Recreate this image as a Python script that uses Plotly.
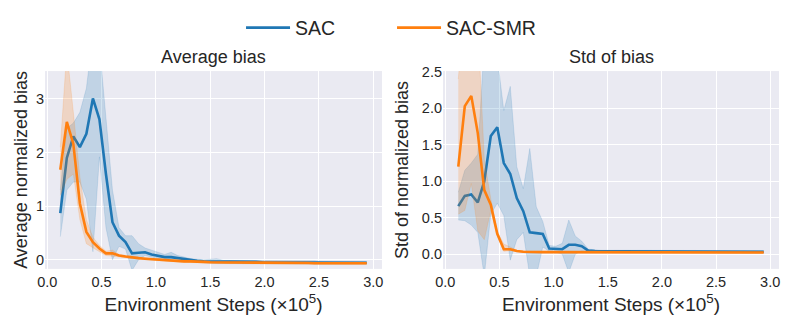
import plotly.graph_objects as go

# environment steps (x 1e5)
steps = [0.12, 0.18, 0.24, 0.30, 0.36, 0.42, 0.48, 0.54, 0.60, 0.66, 0.72, 0.78,
         0.84, 0.90, 0.96, 1.02, 1.08, 1.14, 1.20, 1.26, 1.32, 1.38, 1.44, 1.50,
         1.56, 1.62, 1.68, 1.74, 1.80, 1.86, 1.92, 1.98, 2.04, 2.10, 2.16, 2.22,
         2.28, 2.34, 2.40, 2.46, 2.52, 2.58, 2.64, 2.70, 2.76, 2.82, 2.88, 2.94]

# ---- average bias ----
sac_avg = [0.87, 1.90, 2.30, 2.10, 2.35, 3.01, 2.62, 1.60, 0.70, 0.45, 0.33, 0.12,
           0.13, 0.14, 0.10, 0.07, 0.05, 0.05, 0.03, 0.01, -0.01, -0.02, -0.03, -0.03,
           -0.03, -0.04, -0.04, -0.04, -0.04, -0.04, -0.04, -0.045, -0.045, -0.045, -0.05, -0.05,
           -0.05, -0.05, -0.05, -0.05, -0.055, -0.055, -0.055, -0.055, -0.055, -0.055, -0.055, -0.055]
sac_avg_lo = [0.43, 1.30, 1.45, 1.45, 1.13, 0.15, 1.92, 0.60, 0.00, 0.25, 0.20, -0.20,
              0.00, 0.08, 0.05, 0.02, 0.00, -0.02, -0.01, -0.03, -0.04, -0.05, -0.06, -0.06,
              -0.07, -0.07, -0.07, -0.07, -0.07, -0.07, -0.07, -0.07, -0.07, -0.07, -0.08, -0.08,
              -0.08, -0.08, -0.08, -0.08, -0.08, -0.08, -0.08, -0.08, -0.08, -0.08, -0.08, -0.08]
sac_avg_hi = [1.30, 2.45, 2.55, 2.75, 3.20, 4.20, 4.00, 2.60, 1.30, 0.60, 0.45, 0.45,
              0.30, 0.22, 0.18, 0.13, 0.10, 0.14, 0.08, 0.05, 0.02, 0.01, 0.00, 0.01,
              0.02, -0.01, -0.01, -0.01, -0.01, -0.01, -0.01, -0.02, -0.02, -0.02, -0.02, -0.02,
              -0.02, -0.02, -0.02, -0.02, -0.03, -0.03, -0.03, -0.03, -0.03, -0.03, -0.03, -0.03]

smr_avg = [1.68, 2.57, 2.16, 1.05, 0.52, 0.33, 0.21, 0.12, 0.12, 0.08, 0.06, 0.04,
           0.03, 0.02, 0.01, 0.00, -0.01, -0.02, -0.02, -0.03, -0.03, -0.04, -0.04, -0.045,
           -0.05, -0.05, -0.05, -0.05, -0.05, -0.055, -0.055, -0.055, -0.055, -0.06, -0.06, -0.06,
           -0.06, -0.06, -0.06, -0.065, -0.065, -0.065, -0.065, -0.065, -0.065, -0.065, -0.065, -0.065]
smr_avg_lo = [1.20, 1.50, 1.60, 0.75, 0.30, 0.22, 0.15, 0.08, 0.07, 0.06, 0.04, 0.02,
              0.01, 0.00, -0.01, -0.02, -0.03, -0.04, -0.04, -0.05, -0.05, -0.06, -0.06, -0.065,
              -0.07, -0.07, -0.07, -0.07, -0.07, -0.075, -0.075, -0.075, -0.075, -0.08, -0.08, -0.08,
              -0.08, -0.08, -0.08, -0.085, -0.085, -0.085, -0.085, -0.085, -0.085, -0.085, -0.085, -0.085]
smr_avg_hi = [2.10, 3.90, 2.75, 1.55, 0.75, 0.42, 0.27, 0.16, 0.18, 0.10, 0.08, 0.06,
              0.05, 0.04, 0.03, 0.02, 0.01, 0.00, 0.00, -0.01, -0.01, -0.02, -0.02, -0.025,
              -0.03, -0.03, -0.03, -0.03, -0.03, -0.035, -0.035, -0.035, -0.035, -0.04, -0.04, -0.04,
              -0.04, -0.04, -0.04, -0.045, -0.045, -0.045, -0.045, -0.045, -0.045, -0.045, -0.045, -0.045]

# ---- std of bias ----
sac_std = [0.66, 0.80, 0.82, 0.71, 1.00, 1.62, 1.74, 1.25, 1.10, 0.77, 0.59, 0.30,
           0.29, 0.28, 0.08, 0.07, 0.07, 0.13, 0.13, 0.11, 0.05, 0.045, 0.04, 0.04,
           0.04, 0.04, 0.04, 0.04, 0.04, 0.04, 0.04, 0.04, 0.04, 0.04, 0.04, 0.04,
           0.04, 0.04, 0.04, 0.04, 0.04, 0.04, 0.035, 0.035, 0.035, 0.035, 0.035, 0.035]
sac_std_lo = [0.47, 0.46, 0.40, 0.30, -0.30, 0.55, 0.70, 0.53, -0.08, 0.20, 0.30, -0.30,
              -0.30, 0.10, 0.04, 0.03, 0.00, -0.25, 0.00, 0.05, 0.03, 0.03, 0.025, 0.025,
              0.025, 0.025, 0.025, 0.025, 0.025, 0.025, 0.025, 0.025, 0.025, 0.025, 0.025, 0.025,
              0.025, 0.025, 0.025, 0.025, 0.025, 0.025, 0.02, 0.02, 0.02, 0.02, 0.02, 0.02]
sac_std_hi = [0.85, 1.15, 1.25, 1.37, 2.90, 2.90, 2.70, 1.97, 2.30, 1.20, 0.90, 1.45,
              0.65, 0.45, 0.12, 0.11, 0.15, 0.47, 0.25, 0.18, 0.07, 0.06, 0.055, 0.055,
              0.055, 0.055, 0.055, 0.055, 0.055, 0.055, 0.055, 0.055, 0.055, 0.055, 0.055, 0.055,
              0.055, 0.055, 0.055, 0.055, 0.055, 0.055, 0.05, 0.05, 0.05, 0.05, 0.05, 0.05]

smr_std = [1.20, 2.03, 2.17, 1.66, 0.88, 0.68, 0.28, 0.07, 0.07, 0.045, 0.035, 0.03,
           0.03, 0.03, 0.03, 0.03, 0.03, 0.03, 0.03, 0.03, 0.03, 0.03, 0.03, 0.03,
           0.03, 0.03, 0.03, 0.03, 0.03, 0.03, 0.03, 0.03, 0.03, 0.03, 0.03, 0.03,
           0.03, 0.03, 0.03, 0.03, 0.025, 0.025, 0.025, 0.025, 0.025, 0.025, 0.025, 0.025]
smr_std_lo = [0.55, 0.60, 0.97, 0.32, 0.20, 0.60, 0.25, 0.04, 0.05, 0.035, 0.025, 0.02,
              0.02, 0.02, 0.02, 0.02, 0.02, 0.02, 0.02, 0.02, 0.02, 0.02, 0.02, 0.02,
              0.02, 0.02, 0.02, 0.02, 0.02, 0.02, 0.02, 0.02, 0.02, 0.02, 0.02, 0.02,
              0.02, 0.02, 0.02, 0.02, 0.015, 0.015, 0.015, 0.015, 0.015, 0.015, 0.015, 0.015]
smr_std_hi = [2.40, 3.50, 3.50, 3.20, 1.30, 0.76, 0.31, 0.14, 0.10, 0.055, 0.045, 0.04,
              0.04, 0.04, 0.04, 0.04, 0.04, 0.04, 0.04, 0.04, 0.04, 0.04, 0.04, 0.04,
              0.04, 0.04, 0.04, 0.04, 0.04, 0.04, 0.04, 0.04, 0.04, 0.04, 0.04, 0.04,
              0.04, 0.04, 0.04, 0.04, 0.035, 0.035, 0.035, 0.035, 0.035, 0.035, 0.035, 0.035]

BLUE = "#1f77b4"
ORANGE = "#ff7f0e"
FONT = "Arial, Liberation Sans, sans-serif"
TXT = "#262626"

fig = go.Figure()


def add_series(mean, lo, hi, color, rgb, name, xa, ya, show):
    band = "rgba(%s,0.2)" % rgb
    fig.add_trace(go.Scatter(x=steps, y=lo, mode="lines", line=dict(width=0.6, color="rgba(%s,0.25)" % rgb),
                             xaxis=xa, yaxis=ya, showlegend=False, hoverinfo="skip"))
    fig.add_trace(go.Scatter(x=steps, y=hi, mode="lines", line=dict(width=0.6, color="rgba(%s,0.25)" % rgb),
                             fill="tonexty", fillcolor=band,
                             xaxis=xa, yaxis=ya, showlegend=False, hoverinfo="skip"))
    fig.add_trace(go.Scatter(x=steps, y=mean, mode="lines", name=name, line=dict(color=color, width=2.6),
                             xaxis=xa, yaxis=ya, showlegend=show, legendgroup=name))


add_series(sac_avg, sac_avg_lo, sac_avg_hi, BLUE, "31,119,180", "SAC", "x", "y", True)
add_series(smr_avg, smr_avg_lo, smr_avg_hi, ORANGE, "255,127,14", "SAC-SMR", "x", "y", True)
add_series(sac_std, sac_std_lo, sac_std_hi, BLUE, "31,119,180", "SAC", "x2", "y2", False)
add_series(smr_std, smr_std_lo, smr_std_hi, ORANGE, "255,127,14", "SAC-SMR", "x2", "y2", False)

xtitle = "Environment Steps (×10<sup>5</sup>)"
axis_common = dict(showgrid=True, gridcolor="white", gridwidth=1.3, zeroline=False, automargin=False,
                   showline=False, ticks="", tickfont=dict(size=14.5, color=TXT, family=FONT))

# page body has an 8px margin, so the figure is sized to fit inside the window
fig.update_layout(
    width=782, height=316,
    margin=dict(l=0, r=0, t=0, b=0),
    paper_bgcolor="white",
    plot_bgcolor="#EAEAF2",
    font=dict(family=FONT, color=TXT),
    xaxis=dict(domain=[0.0473, 0.4783], range=[-0.021, 3.081], tickvals=[0, 0.5, 1, 1.5, 2, 2.5, 3],
               tickformat=".1f", anchor="y", ticklabelstandoff=3,
               title=dict(text=xtitle, font=dict(size=19, color=TXT), standoff=8), **axis_common),
    yaxis=dict(domain=[0.1772, 0.8133], range=[-0.17, 3.52], tickvals=[0, 1, 2, 3], anchor="x",
               title=dict(text="Average normalized bias", font=dict(size=18, color=TXT), standoff=3),
               **axis_common),
    xaxis2=dict(domain=[0.5563, 0.9859], range=[-0.021, 3.081], tickvals=[0, 0.5, 1, 1.5, 2, 2.5, 3],
                tickformat=".1f", anchor="y2", ticklabelstandoff=3,
                title=dict(text=xtitle, font=dict(size=19, color=TXT), standoff=8), **axis_common),
    yaxis2=dict(domain=[0.1772, 0.8133], range=[-0.2, 2.51], tickvals=[0, 0.5, 1, 1.5, 2, 2.5],
                tickformat=".1f", anchor="x2",
                title=dict(text="Std of normalized bias", font=dict(size=18, color=TXT), standoff=8),
                **axis_common),
    legend=dict(orientation="h", x=0.298, y=0.952, xanchor="left", yanchor="middle",
                font=dict(size=19.5, color=TXT), entrywidth=92, entrywidthmode="pixels",
                itemwidth=44, bgcolor="rgba(0,0,0,0)"),
    annotations=[
        dict(text="Average bias", x=0.2628, y=1 - 45 / 316, xref="paper", yref="paper",
             showarrow=False, font=dict(size=18, color=TXT), xanchor="center", yanchor="middle"),
        dict(text="Std of bias", x=0.7711, y=1 - 45 / 316, xref="paper", yref="paper",
             showarrow=False, font=dict(size=18, color=TXT), xanchor="center", yanchor="middle"),
    ],
)

fig.write_html("out.html")
